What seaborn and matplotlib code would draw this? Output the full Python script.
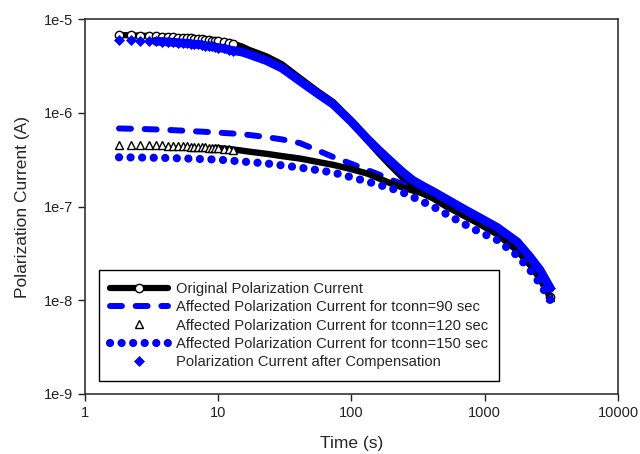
import matplotlib
matplotlib.use("Agg")
import matplotlib.pyplot as plt
import seaborn as sns
from matplotlib.ticker import NullLocator

# sample times (s)
time_s = [1.8, 2.2, 2.6, 3.0, 3.4, 3.8, 4.2, 4.6, 5.0, 5.4, 5.8, 6.2, 6.6, 7.0,
          7.5, 8, 8.5, 9, 9.5, 10, 11, 12, 13,
          15, 17, 23, 30, 41, 55, 73, 100, 131, 160, 194, 240, 289, 344,
          408, 500, 687, 900, 1236, 1750, 2186, 2600, 3100]

# currents in uA (x1e-6 A)
original_uA = [6.75, 6.70, 6.65, 6.60, 6.55, 6.50, 6.45, 6.40, 6.35, 6.30, 6.25, 6.20, 6.15, 6.10,
               6.05, 6.00, 5.95, 5.90, 5.85, 5.80, 5.70, 5.55, 5.45,
               5.10, 4.70, 4.00, 3.30, 2.35, 1.72, 1.30, 0.82, 0.51, 0.37, 0.277, 0.205, 0.162, 0.137,
               0.123, 0.103, 0.081, 0.066, 0.051, 0.034, 0.024, 0.017, 0.0108]
compensated_uA = [6.00, 5.95, 5.90, 5.85, 5.80, 5.75, 5.70, 5.65, 5.60, 5.55, 5.50, 5.45, 5.40, 5.35,
                  5.30, 5.20, 5.15, 5.10, 5.00, 4.95, 4.85, 4.70, 4.60,
                  4.45, 4.20, 3.60, 3.00, 2.18, 1.62, 1.23, 0.80, 0.53, 0.40, 0.31, 0.235, 0.19, 0.165,
                  0.145, 0.123, 0.095, 0.077, 0.060, 0.042, 0.029, 0.021, 0.0135]
# currents x1e-7 A
tconn90 = [6.80, 6.76, 6.72, 6.68, 6.64, 6.60, 6.56, 6.52, 6.48, 6.45, 6.42, 6.38, 6.35, 6.32,
           6.29, 6.26, 6.23, 6.20, 6.17, 6.14, 6.09, 6.04, 6.00,
           5.90, 5.80, 5.50, 5.20, 4.75, 4.00, 3.37, 2.85, 2.45, 2.20, 1.95, 1.75, 1.55, 1.38,
           1.23, 1.03, 0.81, 0.66, 0.51, 0.34, 0.24, 0.17, 0.108]
tconn120 = [4.55, 4.54, 4.53, 4.52, 4.50, 4.48, 4.46, 4.44, 4.42, 4.40, 4.38, 4.36, 4.34, 4.32,
            4.30, 4.28, 4.26, 4.24, 4.22, 4.20, 4.15, 4.10, 4.05,
            3.95, 3.85, 3.65, 3.45, 3.25, 3.00, 2.78, 2.50, 2.25, 2.00, 1.78, 1.60, 1.48, 1.38,
            1.23, 1.03, 0.81, 0.66, 0.51, 0.34, 0.24, 0.17, 0.108]
tconn150 = [3.35, 3.34, 3.33, 3.32, 3.31, 3.30, 3.29, 3.28, 3.27, 3.26, 3.25, 3.24, 3.23, 3.22,
            3.21, 3.20, 3.19, 3.18, 3.17, 3.16, 3.13, 3.10, 3.07,
            3.02, 2.98, 2.88, 2.75, 2.60, 2.45, 2.30, 2.05, 1.85, 1.70, 1.58, 1.42, 1.26, 1.12,
            1.00, 0.85, 0.66, 0.54, 0.44, 0.30, 0.21, 0.15, 0.100]

labels = ["Original Polarization Current",
          "Affected Polarization Current for tconn=90 sec",
          "Affected Polarization Current for tconn=120 sec",
          "Affected Polarization Current for tconn=150 sec",
          "Polarization Current after Compensation"]

original = [v * 1e-6 for v in original_uA]
compensated = [v * 1e-6 for v in compensated_uA]
i90 = [v * 1e-7 for v in tconn90]
i120 = [v * 1e-7 for v in tconn120]
i150 = [v * 1e-7 for v in tconn150]

sns.set_theme(style="ticks")
plt.rcParams['font.family'] = ['Liberation Sans', 'DejaVu Sans']

fig = plt.figure(figsize=(6.4, 4.54), dpi=100)
ax = fig.add_axes([0.1328, 0.1322, 0.8328, 0.8259])

n_early = 23
marks = list(range(n_early)) + [len(time_s) - 1]
common = dict(ax=ax, estimator=None, errorbar=None, sort=False)

# original: thick black line with open circles
sns.lineplot(x=time_s, y=original, color="black", lw=4.5, marker="o", ms=6,
             mfc="white", mec="black", mew=1, markevery=marks, label=labels[0], **common)
# tconn 90: blue dashes
sns.lineplot(x=time_s, y=i90, color="blue", lw=4.3, linestyle=(0, (2.0, 2.3)),
             dash_capstyle="round", label=labels[1], **common)
# tconn 120: open triangles that merge into a band
sns.lineplot(x=time_s[18:], y=i120[18:], color="black", lw=4.6, legend=False, **common)
sns.lineplot(x=time_s, y=i120, color="black", linestyle="none", marker="^", ms=6,
             mfc="white", mec="black", mew=1, markevery=marks, label=labels[2], **common)
# tconn 150: blue round dots
sns.lineplot(x=time_s, y=i150, color="blue", lw=5.9, linestyle=(0, (0.01, 1.4)),
             dash_capstyle="round", label=labels[3], **common)
# compensated: blue diamonds merging into a band
sns.lineplot(x=time_s[4:], y=compensated[4:], color="blue", lw=6.3, legend=False, **common)
sns.lineplot(x=time_s, y=compensated, color="blue", linestyle="none", marker="D", ms=5,
             mfc="blue", mec="blue", mew=0.5, markevery=marks, label=labels[4], **common)

ax.set_xscale("log")
ax.set_yscale("log")
ax.set_xlim(1, 10000)
ax.set_ylim(1e-9, 1e-5)
ax.set_xticks([1, 10, 100, 1000, 10000])
ax.set_xticklabels(["1", "10", "100", "1000", "10000"])
ax.set_yticks([1e-9, 1e-8, 1e-7, 1e-6, 1e-5])
ax.set_yticklabels(["1e-9", "1e-8", "1e-7", "1e-6", "1e-5"])
ax.xaxis.set_minor_locator(NullLocator())
ax.yaxis.set_minor_locator(NullLocator())
ax.tick_params(direction="out", length=5, width=1, labelsize=10.5, colors="#222222")
for s in ax.spines.values():
    s.set_color("#333333")
    s.set_linewidth(1.2)

ax.set_xlabel("Time (s)", fontsize=12.5, labelpad=12)
ax.set_ylabel("Polarization Current (A)", fontsize=12.5, labelpad=10)

handles, labs = ax.get_legend_handles_labels()
order = [labs.index(l) for l in labels]
ax.legend([handles[i] for i in order], labels, loc="lower left",
          bbox_to_anchor=(0.026, 0.035), borderaxespad=0, fontsize=10.6,
          numpoints=1, handlelength=3.9, handletextpad=0.55, labelspacing=0.3,
          borderpad=0.78, fancybox=False, edgecolor="black", framealpha=1)
ax.get_legend().get_frame().set_linewidth(1)

fig.savefig("out.png", dpi=100)
